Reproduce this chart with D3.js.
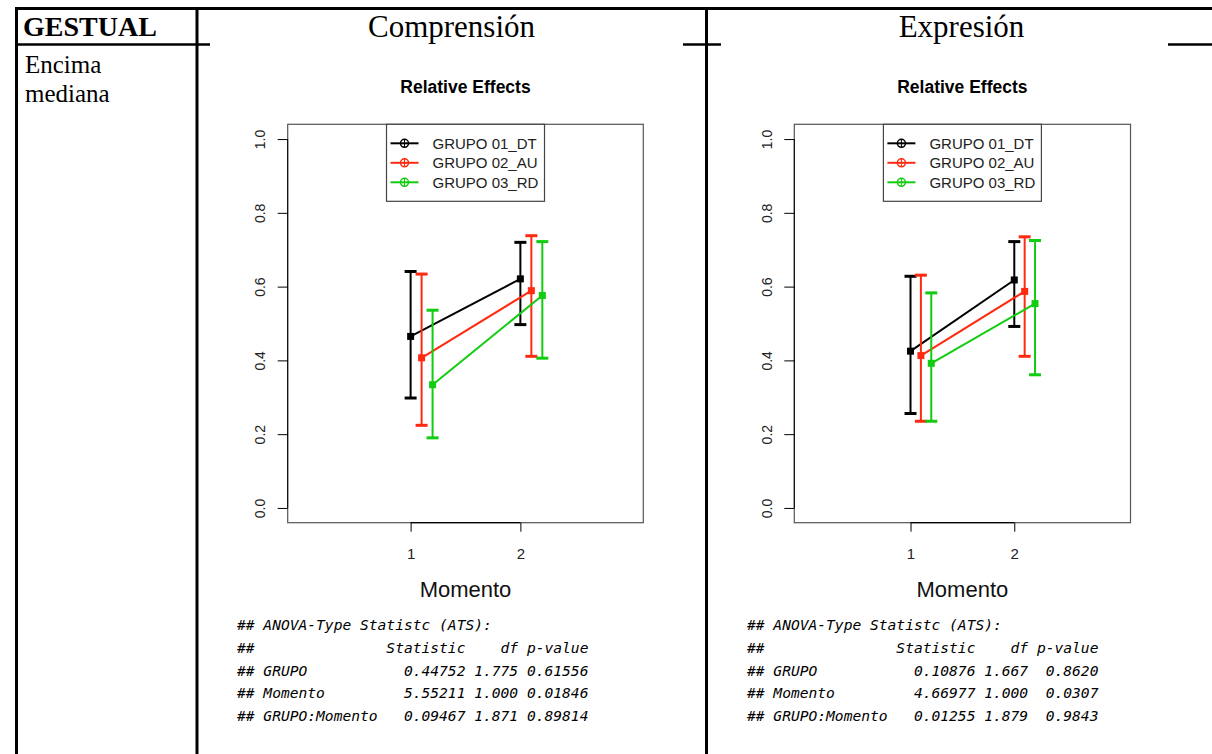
<!DOCTYPE html>
<html>
<head>
<meta charset="utf-8">
<script src="https://cdn.jsdelivr.net/npm/d3@7"></script>
<style>
  body { margin: 0; background: #fff; }
  svg { display: block; }
</style>
</head>
<body>
<div id="chart"></div>
<script>
// table header texts
const rowLabel = "GESTUAL";
const colLabels = ["Comprensión", "Expresión"];
const cellLabel = ["Encima", "mediana"];

// plot data
const groups = ["GRUPO 01_DT", "GRUPO 02_AU", "GRUPO 03_RD"];
const groupColors = ["#000000", "#ff2a10", "#11cc11"];
const momentos = [1, 2];
const yTicks = [0, 0.2, 0.4, 0.6, 0.8, 1.0];

// Comprensión: relative effects and CI per group, per momento
const compEffect = [[0.465, 0.621], [0.407, 0.589], [0.334, 0.576]];
const compLower  = [[0.298, 0.497], [0.224, 0.411], [0.190, 0.406]];
const compUpper  = [[0.641, 0.720], [0.634, 0.738], [0.536, 0.722]];

// Expresión
const expEffect = [[0.425, 0.618], [0.413, 0.587], [0.392, 0.554]];
const expLower  = [[0.256, 0.492], [0.235, 0.411], [0.235, 0.361]];
const expUpper  = [[0.628, 0.722], [0.631, 0.735], [0.583, 0.725]];

// ANOVA-type statistic tables
const statRows = ["GRUPO", "Momento", "GRUPO:Momento"];
const compStat = ["0.44752", "5.55211", "0.09467"];
const compDf   = ["1.775", "1.000", "1.871"];
const compP    = ["0.61556", "0.01846", "0.89814"];
const expStat  = ["0.10876", "4.66977", "0.01255"];
const expDf    = ["1.667", "1.000", "1.879"];
const expP     = ["0.8620", "0.0307", "0.9843"];

const width = 1212, height = 754;
const svg = d3.select("#chart").append("svg")
    .attr("width", width).attr("height", height);

const serif = "'Liberation Serif', 'Times New Roman', serif";
const sans = "'Liberation Sans', Arial, sans-serif";
const mono = "'DejaVu Sans Mono', monospace";

// ---- table lines ----
const lines = svg.append("g").attr("stroke", "#000");
lines.append("line").attr("x1", 15).attr("x2", width).attr("y1", 8.5).attr("y2", 8.5).attr("stroke-width", 3);
[[15, 210], [683, 721], [1168, width]].forEach(function (s) {
    lines.append("line").attr("x1", s[0]).attr("x2", s[1]).attr("y1", 44.5).attr("y2", 44.5).attr("stroke-width", 2.5);
});
[16.5, 197, 706.5].forEach(function (x) {
    lines.append("line").attr("x1", x).attr("x2", x).attr("y1", 7).attr("y2", height).attr("stroke-width", 3);
});

svg.append("text").attr("x", 23).attr("y", 36).attr("font-family", serif)
    .attr("font-weight", "bold").attr("font-size", 28).text(rowLabel);
svg.append("text").attr("x", 451.5).attr("y", 37).attr("font-family", serif)
    .attr("font-size", 31).attr("text-anchor", "middle").text(colLabels[0]);
svg.append("text").attr("x", 961.5).attr("y", 37).attr("font-family", serif)
    .attr("font-size", 31).attr("text-anchor", "middle").text(colLabels[1]);
cellLabel.forEach(function (t, i) {
    svg.append("text").attr("x", 25).attr("y", 72.5 + i * 29).attr("font-family", serif)
        .attr("font-size", 25).text(t);
});

// ---- relative effects plot ----
function drawPlot(box, effect, lower, upper) {
    const x = d3.scaleLinear().domain([-0.12, 3.12]).range([box.left, box.right]);
    const y = d3.scaleLinear().domain([-0.04, 1.04]).range([522.7, 124.3]);
    const g = svg.append("g");
    const cx = (box.left + box.right) / 2;

    g.append("text").attr("x", cx).attr("y", 93).attr("text-anchor", "middle")
        .attr("font-family", sans).attr("font-weight", "bold").attr("font-size", 17.5)
        .text("Relative Effects");

    g.append("rect").attr("x", box.left).attr("y", y(1.04))
        .attr("width", box.right - box.left).attr("height", y(-0.04) - y(1.04))
        .attr("fill", "none").attr("stroke", "#555").attr("stroke-width", 1.2);

    // y axis
    const ya = g.append("g").attr("transform", "translate(" + box.left + ",0)")
        .call(d3.axisLeft(y).tickValues(yTicks).tickSize(10).tickFormat(d3.format(".1f")));
    ya.select(".domain").remove();
    ya.selectAll("text").attr("x", 0).attr("y", -22.5).attr("dy", null)
        .attr("transform", "rotate(-90)").attr("text-anchor", "middle")
        .attr("font-family", sans).attr("font-size", 14).attr("fill", "#222");
    g.append("line").attr("x1", box.left).attr("x2", box.left)
        .attr("y1", y(0)).attr("y2", y(1)).attr("stroke", "#000");

    // x axis
    const xa = g.append("g").attr("transform", "translate(0," + y(-0.04) + ")")
        .call(d3.axisBottom(x).tickValues(momentos).tickSize(9).tickFormat(d3.format("d")));
    xa.select(".domain").remove();
    xa.selectAll("text").attr("y", 36).attr("dy", null)
        .attr("font-family", sans).attr("font-size", 15).attr("fill", "#222");
    g.append("line").attr("x1", x(1)).attr("x2", x(2))
        .attr("y1", y(-0.04)).attr("y2", y(-0.04)).attr("stroke", "#000").attr("stroke-width", 1.3);

    g.append("text").attr("x", cx).attr("y", 597).attr("text-anchor", "middle")
        .attr("font-family", sans).attr("font-size", 22).attr("fill", "#111").text("Momento");

    // series
    groups.forEach(function (name, gi) {
        const col = groupColors[gi];
        const off = gi * 0.1;
        const pts = momentos.map(function (m, mi) {
            return { x: m + off, e: effect[gi][mi], lo: lower[gi][mi], hi: upper[gi][mi] };
        });
        const sg = g.append("g");
        pts.forEach(function (p) {
            sg.append("line").attr("x1", x(p.x)).attr("x2", x(p.x))
                .attr("y1", y(p.lo)).attr("y2", y(p.hi))
                .attr("stroke", col).attr("stroke-width", 2);
            [p.lo, p.hi].forEach(function (v) {
                sg.append("line").attr("x1", x(p.x) - 6).attr("x2", x(p.x) + 6)
                    .attr("y1", y(v)).attr("y2", y(v))
                    .attr("stroke", col).attr("stroke-width", 3);
            });
        });
        sg.append("path").datum(pts)
            .attr("d", d3.line().x(function (d) { return x(d.x); }).y(function (d) { return y(d.e); }))
            .attr("fill", "none").attr("stroke", col).attr("stroke-width", 2);
        sg.selectAll("rect").data(pts).enter().append("rect")
            .attr("x", function (d) { return x(d.x) - 3.5; })
            .attr("y", function (d) { return y(d.e) - 3.5; })
            .attr("width", 7).attr("height", 7).attr("fill", col);
    });

    // legend
    const lw = 158, lx = cx - lw / 2, ly = y(1.04);
    const lg = g.append("g");
    lg.append("rect").attr("x", lx).attr("y", ly).attr("width", lw).attr("height", 77)
        .attr("fill", "#fff").attr("stroke", "#444").attr("stroke-width", 1.2);
    groups.forEach(function (name, gi) {
        const yy = ly + 19 + gi * 19.5;
        const col = groupColors[gi];
        lg.append("line").attr("x1", lx + 4).attr("x2", lx + 32).attr("y1", yy).attr("y2", yy)
            .attr("stroke", col).attr("stroke-width", 2);
        lg.append("circle").attr("cx", lx + 18).attr("cy", yy).attr("r", 4)
            .attr("fill", "none").attr("stroke", col).attr("stroke-width", 1.5);
        lg.append("line").attr("x1", lx + 18).attr("x2", lx + 18).attr("y1", yy - 4).attr("y2", yy + 4)
            .attr("stroke", col).attr("stroke-width", 1);
        lg.append("text").attr("x", lx + 46).attr("y", yy + 5.5)
            .attr("font-family", sans).attr("font-size", 15).attr("fill", "#222").text(name);
    });
}

drawPlot({ left: 287.7, right: 643.3 }, compEffect, compLower, compUpper);
drawPlot({ left: 794.3, right: 1130.5 }, expEffect, expLower, expUpper);

// ---- ANOVA-type statistic text ----
function pad(s, n, right) {
    while (s.length < n) s = right ? " " + s : s + " ";
    return s;
}
function drawStats(x0, stat, df, p) {
    const out = ["## ANOVA-Type Statistc (ATS):",
        "## " + pad("", 13) + " " + pad("Statistic", 9, true) + " " + pad("df", 5, true) + " " + pad("p-value", 7, true)];
    statRows.forEach(function (r, i) {
        out.push("## " + pad(r, 13) + " " + pad(stat[i], 9, true) + " " + pad(df[i], 5, true) + " " + pad(p[i], 7, true));
    });
    svg.append("g").selectAll("text").data(out).enter().append("text")
        .attr("x", x0).attr("y", function (d, i) { return 630 + i * 22.8; })
        .attr("font-family", mono).attr("font-style", "italic").attr("font-size", 14.6)
        .attr("fill", "#000").style("white-space", "pre").text(function (d) { return d; });
}
drawStats(237, compStat, compDf, compP);
drawStats(747, expStat, expDf, expP);
</script>
</body>
</html>
